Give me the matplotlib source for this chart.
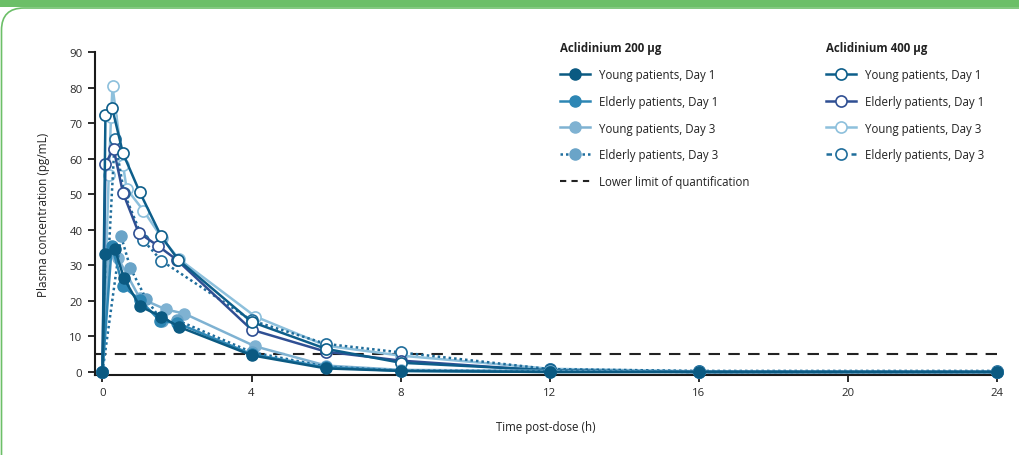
import matplotlib
matplotlib.use("Agg")
import matplotlib.pyplot as plt
from matplotlib.lines import Line2D
from matplotlib.patches import Rectangle, FancyBboxPatch

plt.rcParams["font.family"] = ["Open Sans", "DejaVu Sans"]

# 200 µg series (filled markers)
t_y1_200 = [0, 0.08, 0.33, 0.58, 1.0, 1.58, 2.05, 4, 6, 8, 12, 16, 24]
c_y1_200 = [0, 33.2, 34.6, 26.3, 18.5, 15.6, 12.7, 4.7, 1.0, 0.3, 0, 0, 0]
t_e1_200 = [0, 0.25, 0.55, 1.0, 1.55, 2.0, 4, 6, 8, 12, 16, 24]
c_e1_200 = [0, 35.5, 24.1, 20.3, 14.3, 13.8, 5.0, 1.3, 0.3, 0, 0, 0]
t_y3_200 = [0, 0.17, 0.42, 1.0, 1.7, 2.2, 4.1, 6, 8, 12, 16, 24]
c_y3_200 = [0, 33.5, 32.0, 20.8, 17.6, 16.4, 7.2, 1.8, 0.6, 0.3, 0, 0]
t_e3_200 = [0, 0.5, 0.75, 1.17, 1.6, 2.0, 4, 6, 8, 12, 16, 24]
c_e3_200 = [0, 38.2, 29.2, 20.6, 14.3, 14.6, 5.6, 1.5, 0.4, 0.2, 0, 0]

# 400 µg series (open markers)
t_y1_400 = [0, 0.08, 0.26, 0.55, 1.0, 1.57, 2.03, 4, 6, 8, 12, 16, 24]
c_y1_400 = [0, 72.2, 74.3, 61.5, 50.6, 38.3, 31.6, 14.1, 6.5, 2.6, 0.5, 0, 0]
t_e1_400 = [0, 0.08, 0.3, 0.55, 0.97, 1.5, 2.0, 4, 6, 8, 12, 16, 24]
c_e1_400 = [0, 58.6, 62.8, 50.4, 39.2, 35.4, 31.5, 11.9, 5.7, 3.2, 0.3, 0, 0]
t_y3_400 = [0, 0.17, 0.23, 0.27, 0.55, 0.65, 1.1, 1.6, 2.05, 4.1, 6, 8, 12, 16, 24]
c_y3_400 = [0, 55.5, 71.7, 80.3, 58.3, 51.5, 45.4, 37.6, 31.8, 15.6, 7.4, 4.6, 0.9, 0.2, 0]
t_e3_400 = [0, 0.33, 0.58, 1.1, 1.58, 4, 6, 8, 12, 16, 24]
c_e3_400 = [0, 65.6, 50.4, 37.0, 31.3, 14.5, 7.9, 5.5, 0.8, 0.3, 0.3]

lloq = 5

labels = ["Young patients, Day 1", "Elderly patients, Day 1",
          "Young patients, Day 3", "Elderly patients, Day 3"]

col_y1_200 = "#0b5a82"
col_e1_200 = "#2d86b4"
col_y3_200 = "#7fb2d2"
col_e3_200 = "#6aa4c8"
col_e3_200_line = "#1f6e9e"
col_y1_400 = "#0d5e8a"
col_e1_400 = "#2f4f93"
col_y3_400 = "#8dc0dc"
col_e3_400 = "#1f6d9b"

fig = plt.figure(figsize=(10.19, 4.56), dpi=100)

# green frame around the panel
fig.patches.append(Rectangle((0, 1 - 8 / 456), 1, 8 / 456, transform=fig.transFigure,
                             facecolor="#6cbf68", edgecolor="none", zorder=-10))
fig.patches.append(FancyBboxPatch((1.5 / 1019, -0.2), 1.2, 1.2 - 9 / 456,
                                  boxstyle="round,pad=0,rounding_size=0.022",
                                  mutation_aspect=2.2,
                                  transform=fig.transFigure, facecolor="white",
                                  edgecolor="#6cbf68", linewidth=1.2, zorder=-9))

ax = fig.add_axes([95 / 1019, 1 - 376 / 456, 902 / 1019, 323 / 456])
ax.set_facecolor("none")

lw = 1.8
ms = 8

ax.axhline(lloq, color="#222222", lw=1.5, ls=(0, (5.5, 4)), zorder=1)

def filled(t, c, color, ls="-", lcol=None):
    ax.plot(t, c, color=lcol or color, lw=lw, ls=ls, marker="o", ms=ms,
            markerfacecolor=color, markeredgecolor=color, zorder=3, clip_on=False)

def hollow(t, c, color, ls="-"):
    ax.plot(t, c, color=color, lw=lw, ls=ls, marker="o", ms=ms,
            markerfacecolor="white", markeredgecolor=color, markeredgewidth=1.2,
            zorder=2, clip_on=False)

hollow(t_y3_400, c_y3_400, col_y3_400)
hollow(t_e3_400, c_e3_400, col_e3_400, ls=(0, (1, 1.2)))
hollow(t_e1_400, c_e1_400, col_e1_400)
hollow(t_y1_400, c_y1_400, col_y1_400)

filled(t_y3_200, c_y3_200, col_y3_200)
filled(t_e3_200, c_e3_200, col_e3_200, ls=(0, (1, 1.2)), lcol=col_e3_200_line)
filled(t_e1_200, c_e1_200, col_e1_200)
filled(t_y1_200, c_y1_200, col_y1_200)

ax.set_xlim(-0.2, 24)
ax.set_ylim(-0.85, 90)
ax.set_xticks(range(0, 25, 4))
ax.set_yticks(range(0, 91, 10))
for s in ["top", "right"]:
    ax.spines[s].set_visible(False)
for s in ["left", "bottom"]:
    ax.spines[s].set_linewidth(1.5)
    ax.spines[s].set_color("#1a1a1a")
ax.tick_params(direction="out", length=5, width=1.3, color="#1a1a1a",
               labelsize=8.2, labelcolor="#2a2a2a", pad=4)

ax.set_ylabel("Plasma concentration (pg/mL)", fontsize=8.5, color="#222222")
ax.yaxis.set_label_coords(-0.05, 0.5)
ax.set_xlabel("Time post-dose (h)", fontsize=8.3, color="#222222")
ax.xaxis.set_label_coords(0.5, -0.14)

# legends, one column per dose
h200 = [
    Line2D([], [], color=col_y1_200, lw=lw, marker="o", ms=ms, mfc=col_y1_200, mec=col_y1_200),
    Line2D([], [], color=col_e1_200, lw=lw, marker="o", ms=ms, mfc=col_e1_200, mec=col_e1_200),
    Line2D([], [], color=col_y3_200, lw=lw, marker="o", ms=ms, mfc=col_y3_200, mec=col_y3_200),
    Line2D([], [], color=col_e3_200_line, lw=lw, ls=(0, (1, 1.2)), marker="o", ms=ms,
           mfc=col_e3_200, mec=col_e3_200),
    Line2D([], [], color="#222222", lw=1.5, ls=(0, (3, 2.5))),
]
h400 = [
    Line2D([], [], color=col_y1_400, lw=lw, marker="o", ms=ms, mfc="white", mec=col_y1_400, mew=1.2),
    Line2D([], [], color=col_e1_400, lw=lw, marker="o", ms=ms, mfc="white", mec=col_e1_400, mew=1.2),
    Line2D([], [], color=col_y3_400, lw=lw, marker="o", ms=ms, mfc="white", mec=col_y3_400, mew=1.2),
    Line2D([], [], color=col_e3_400, lw=lw, ls=(0, (2.2, 2.8)), marker="o", ms=ms, mfc="white",
           mec=col_e3_400, mew=1.2),
]

leg_kw = dict(frameon=False, fontsize=8.3, handlelength=2.6, handletextpad=0.8,
              labelspacing=1.2, borderpad=0, borderaxespad=0, alignment="left",
              title_fontproperties={"weight": "bold", "size": 8.3})
leg1 = fig.legend(h200, labels + ["Lower limit of quantification"],
                  title="Aclidinium 200 µg", loc="upper left",
                  bbox_to_anchor=(560 / 1019, 1 - 42 / 456), **leg_kw)
leg2 = fig.legend(h400, labels, title="Aclidinium 400 µg", loc="upper left",
                  bbox_to_anchor=(826 / 1019, 1 - 42 / 456), **leg_kw)
for leg in (leg1, leg2):
    for txt in leg.get_texts():
        txt.set_color("#222222")
    leg.get_title().set_color("#222222")

fig.savefig("out.png", dpi=100)
